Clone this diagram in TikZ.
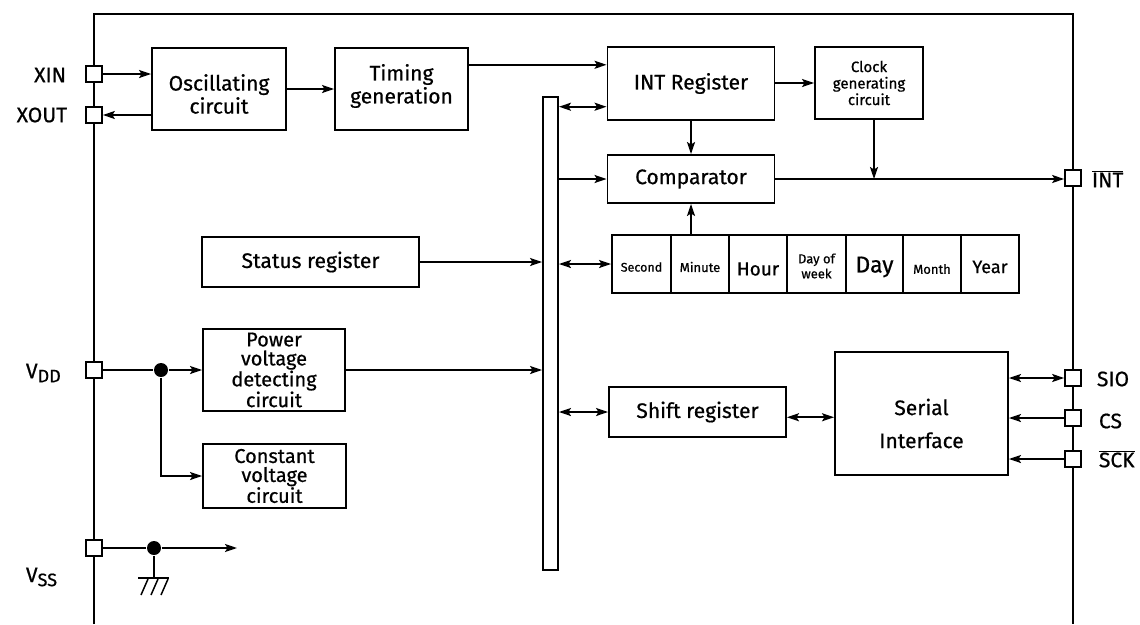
\documentclass[tikz,border=0pt]{standalone}
\usepackage{fontspec}
\setmainfont{Fira Sans}[UprightFeatures={FakeBold=0.6}]
\usetikzlibrary{arrows.meta,calc}
\begin{document}
\begin{tikzpicture}[x=1pt,y=-1pt,line width=1.9pt,
  font=\fontsize{21}{23}\selectfont,
  >={Stealth[length=12pt,width=8pt,inset=2.5pt]},
  box/.style={draw,fill=white,inner sep=0pt,align=center},
  txt/.style 2 args={label={[inner sep=0pt,align=center,yshift=#1]center:#2}},
  ctxt/.style n args={3}{label={[inner sep=0pt,align=center,yshift=#1,font=#3]center:#2}},
  pad/.style={draw,fill=white,line width=1.7pt,minimum size=16pt,inner sep=0pt},
  cell/.style={draw,fill=white,inner sep=0pt,align=center,minimum height=58pt},
  lbl/.style={inner sep=0pt},
  arr/.style={->},
  dbl/.style={<->},
  dot/.style={circle,fill=black,inner sep=0pt,minimum size=14pt}]
\useasboundingbox (0,0) rectangle (1140,624);
% chip outline
\coordinate (cbl) at (94,624);
\coordinate (ctl) at (94,14);
\coordinate (ctr) at (1073,14);
\coordinate (cbr) at (1073,624);
\draw (cbl) -- (ctl) -- (ctr) -- (cbr);
% pads
\node[pad] (xin) at (94,74) {};
\node[pad] (xout) at (94,115) {};
\node[pad] (vdd) at (94,370) {};
\node[pad] (vss) at (94,548) {};
\node[pad] (int) at (1073,178) {};
\node[pad] (sio) at (1073,378) {};
\node[pad] (cs) at (1073,418) {};
\node[pad] (sck) at (1073,459) {};
% pad labels
\node[lbl,anchor=east] (lxin) at (67,75) {XIN};
\node[lbl,anchor=east] (lxout) at (68,115) {XOUT};
\node[lbl,anchor=west] (lvdd) at (25,373) {V\raisebox{-4pt}{\fontsize{18}{18}\selectfont DD}};
\node[lbl,anchor=west] (lvss) at (25,577) {V\raisebox{-4pt}{\fontsize{18}{18}\selectfont SS}};
\node[lbl,anchor=west] (lint) at (1091,179) {$\overline{\hbox{INT}}$};
\node[lbl,anchor=west] (lsio) at (1096,379) {SIO};
\node[lbl,anchor=west] (lcs) at (1098,421) {CS};
\node[lbl,anchor=west] (lsck) at (1098,459) {$\overline{\hbox{SCK}}$};
% boxes
\node[box,minimum width=134pt,minimum height=82pt,txt={-5pt}{Oscillating\\circuit}] (osc) at (219,89) {};
\node[box,minimum width=133pt,minimum height=82pt,txt={3pt}{Timing\\generation}] (timing) at (401.5,89) {};
\node[box,minimum width=167pt,minimum height=73pt] (intreg) at (691,83.5) {INT Register};
\node[box,minimum width=108pt,minimum height=72pt,font=\fontsize{15}{16.5}\selectfont] (clock) at (869,83) {Clock\\generating\\circuit};
\node[box,minimum width=167pt,minimum height=48pt] (comp) at (691,179) {Comparator};
\node[box,minimum width=217pt,minimum height=50pt] (status) at (310.5,262) {Status register};
\node[box,minimum width=142pt,minimum height=82pt,font=\fontsize{20}{19}\selectfont] (power) at (274,370) {Power\\voltage\\detecting\\circuit};
\node[box,minimum width=143pt,minimum height=64pt,font=\fontsize{20}{19}\selectfont] (const) at (274.5,476) {Constant\\voltage\\circuit};
\node[box,minimum width=177pt,minimum height=50pt] (shift) at (697.5,412) {Shift register};
\node[box,minimum width=173pt,minimum height=123pt,txt={-10pt}{Serial\\[10pt]Interface}] (serial) at (921.5,413.5) {};
\node[box,minimum width=15pt,minimum height=473pt] (bus) at (550.5,333.5) {};
% register row
\node[cell,minimum width=59pt,ctxt={-3pt}{Second}{\fontsize{12.5}{14}\selectfont}] (csec) at (641.5,264) {};
\node[cell,minimum width=58pt,ctxt={-3pt}{Minute}{\fontsize{13}{14}\selectfont}] (cmin) at (700,264) {};
\node[cell,minimum width=58pt,ctxt={-5pt}{Hour}{\fontsize{19}{22}\selectfont}] (chour) at (758,264) {};
\node[cell,minimum width=59pt,ctxt={-2pt}{Day of\\week}{\fontsize{13}{15}\selectfont}] (cdow) at (816.5,264) {};
\node[cell,minimum width=57pt,ctxt={-3pt}{Day}{\fontsize{23}{26}\selectfont}] (cday) at (874.5,264) {};
\node[cell,minimum width=58pt,ctxt={-5pt}{Month}{\fontsize{13}{14}\selectfont}] (cmon) at (932,264) {};
\node[cell,minimum width=58pt,ctxt={-3pt}{Year}{\fontsize{18}{21}\selectfont}] (cyear) at (990,264) {};
% connectors top
\draw[arr] (xin.east) -- (xin.east -| osc.west);
\draw[arr] (xout.east -| osc.west) -- (xout.east);
\draw[arr] (osc.east) -- (osc.east -| timing.west);
\coordinate (ti) at ($(intreg.north west)!0.25!(intreg.south west)$);
\draw[arr] (timing.east |- ti) -- (ti);
\coordinate (bi) at ($(intreg.north west)!0.81!(intreg.south west)$);
\draw[dbl] (bus.east |- bi) -- (bi);
\draw[arr] (intreg.east |- clock.west) -- (clock.west);
\draw[arr] (intreg.south) -- (intreg.south |- comp.north);
\draw[arr] (bus.east |- comp.west) -- (comp.west);
\draw[arr] (comp.east) -- (comp.east -| int.west);
\coordinate (ck) at ([xshift=5pt]clock.south);
\draw[arr] (ck) -- (ck |- comp.east);
\draw[arr] (comp.south |- csec.north) -- (comp.south);
% middle
\draw[arr] (status.east) -- (status.east -| bus.west);
\draw[dbl] (bus.east |- csec.west) -- (csec.west);
% power
\node[dot] (vdot) at (161,370) {};
\draw (vdd.east) -- (vdot);
\draw[arr] (vdot) -- (vdot -| power.west);
\draw[arr] (vdot) |- (const.west);
\draw[arr] (power.east) -- (power.east -| bus.west);
% vss and ground
\node[dot] (sdot) at (154,548) {};
\coordinate (vssend) at (237,548);
\draw (vss.east) -- (sdot);
\draw[arr] (sdot) -- (vssend);
\coordinate (gnd) at (154,578);
\draw (sdot) -- (gnd);
\draw (138,578) -- (169,578);
\draw[line width=1.5pt] (148,579) -- (141,595) (158,579) -- (151,595) (168,579) -- (161,595);
% shift/serial
\draw[dbl] (bus.east |- shift.west) -- (shift.west);
\coordinate (si) at ($(serial.north west)!0.53!(serial.south west)$);
\draw[dbl] (shift.east |- si) -- (si);
\draw[dbl] (sio.west -| serial.east) -- (sio.west);
\draw[arr] (cs.west) -- (cs.west -| serial.east);
\draw[arr] (sck.west) -- (sck.west -| serial.east);
\end{tikzpicture}
\end{document}
